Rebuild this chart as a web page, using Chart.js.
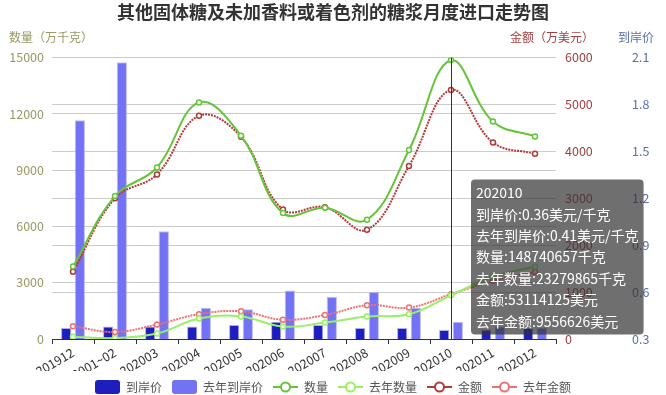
<!DOCTYPE html>
<html>
<head>
<meta charset="utf-8">
<script src="https://cdn.jsdelivr.net/npm/chart.js@4"></script>
<style>
  html, body { margin: 0; padding: 0; background: #fff; }
  #wrap { width: 666px; height: 395px; }
</style>
</head>
<body>
<div id="wrap"><canvas id="chart" width="666" height="395"></canvas></div>
<script>
const months = ['201912', '202001~02', '202003', '202004', '202005', '202006', '202007', '202008', '202009', '202010', '202011', '202012'];
// 到岸价 (美元/千克)
const price = [0.37, 0.38, 0.38, 0.38, 0.39, 0.41, 0.39, 0.37, 0.37, 0.357, 0.36, 0.37];
const lastPrice = [1.70, 2.07, 0.99, 0.50, 0.49, 0.61, 0.57, 0.60, 0.50, 0.4105, 0.38, 0.37];
// 数量 (万千克)
const quantity = [3860, 7620, 9140, 12610, 10840, 6710, 7000, 6360, 10070, 14874.0657, 11590, 10800];
const lastQuantity = [125, 50, 290, 1090, 1200, 660, 875, 1200, 1320, 2327.9865, 3320, 3850];
// 金额 (万美元)
const amount = [1436, 3000, 3510, 4760, 4310, 2760, 2810, 2330, 3690, 5311.4125, 4190, 3950];
const lastAmount = [270, 150, 310, 530, 590, 410, 510, 720, 670, 955.6626, 1240, 1430];
const activeMonth = 9;

const FONT = '"Noto Sans CJK SC", "Microsoft YaHei", sans-serif';
Chart.defaults.font.family = FONT;
Chart.defaults.font.size = 12;

const cPrice = 'rgb(30,30,190)', cLastPrice = '#7272f2';
const cQty = '#66c43a', cLastQty = '#99f066';
const cAmt = '#b33a3a', cLastAmt = '#f07070';

function barIcon(color) {
    const c = document.createElement('canvas');
    c.width = 25; c.height = 14;
    const g = c.getContext('2d');
    g.fillStyle = color;
    g.beginPath(); g.roundRect(0, 0, 25, 14, 3); g.fill();
    return c;
}
function lineIcon(color) {
    const c = document.createElement('canvas');
    c.width = 25; c.height = 14;
    const g = c.getContext('2d');
    g.strokeStyle = color; g.lineWidth = 2;
    g.beginPath(); g.moveTo(0, 7); g.lineTo(25, 7); g.stroke();
    g.fillStyle = '#fff';
    g.beginPath(); g.arc(12.5, 7, 4.5, 0, Math.PI * 2); g.fill(); g.stroke();
    return c;
}
const icons = [barIcon(cPrice), barIcon(cLastPrice), lineIcon(cQty), lineIcon(cLastQty), lineIcon(cAmt), lineIcon(cLastAmt)];

Chart.Tooltip.positioners.fixedRight = function (items) {
    if (!items.length) return false;
    const c = this.chart;
    return { x: c.scales.x.getPixelForValue(items[0].index) + 20, y: c.chartArea.bottom - 82 };
};

const extras = {
    id: 'extras',
    afterDatasetsDraw(chart) {
        const ctx = chart.ctx, a = chart.chartArea;
        const x = chart.scales.x.getPixelForValue(activeMonth);
        ctx.save();
        ctx.strokeStyle = '#333'; ctx.lineWidth = 1;
        ctx.beginPath(); ctx.moveTo(Math.round(x) + 0.5, a.top); ctx.lineTo(Math.round(x) + 0.5, a.bottom); ctx.stroke();
        ctx.font = '12px ' + FONT;
        ctx.textBaseline = 'middle';
        ctx.textAlign = 'left'; ctx.fillStyle = '#999966';
        ctx.fillText('数量（万千克）', 9, 37);
        ctx.textAlign = 'center'; ctx.fillStyle = '#a04040';
        ctx.fillText('金额（万美元）', 552, 37);
        ctx.fillStyle = '#5b6fa6';
        ctx.fillText('到岸价', 636, 37);
        ctx.restore();
    }
};

const lineBase = { type: 'line', tension: 0.4, borderWidth: 2, pointRadius: 2.5, pointBorderWidth: 1.5, pointBackgroundColor: '#fff', order: 1 };

const chart = new Chart(document.getElementById('chart'), {
    type: 'bar',
    data: {
        labels: months,
        datasets: [
            { label: '到岸价', data: price, yAxisID: 'yP', backgroundColor: cPrice, borderColor: 'rgba(120,120,230,0.6)', borderWidth: 1, categoryPercentage: 0.65, barPercentage: 0.75, order: 2 },
            { label: '去年到岸价', data: lastPrice, yAxisID: 'yP', backgroundColor: cLastPrice, borderColor: 'rgba(170,170,255,0.8)', borderWidth: 1, categoryPercentage: 0.65, barPercentage: 0.75, order: 2 },
            Object.assign({ label: '数量', data: quantity, yAxisID: 'yQ', borderColor: cQty, pointBorderColor: cQty }, lineBase),
            Object.assign({ label: '去年数量', data: lastQuantity, yAxisID: 'yQ', borderColor: cLastQty, pointBorderColor: cLastQty }, lineBase),
            Object.assign({ label: '金额', data: amount, yAxisID: 'yA', borderColor: cAmt, pointBorderColor: cAmt, borderDash: [2, 1] }, lineBase),
            Object.assign({ label: '去年金额', data: lastAmount, yAxisID: 'yA', borderColor: cLastAmt, pointBorderColor: cLastAmt, borderDash: [2, 1] }, lineBase)
        ]
    },
    options: {
        responsive: false,
        animation: false,
        events: [],
        layout: { padding: { left: 0, right: 0, top: 0, bottom: -8 } },
        scales: {
            x: {
                offset: true,
                grid: { offset: true, drawOnChartArea: false, drawTicks: true, tickLength: 5, color: '#333' },
                border: { color: '#333' },
                ticks: { minRotation: 30, maxRotation: 30, color: '#333', padding: 1, font: { size: 12.5 } },
                afterFit: s => { s.height = 32; }
            },
            yQ: {
                position: 'left', min: 0, max: 15000,
                ticks: { stepSize: 3000, color: '#999966', padding: 8, font: { size: 12.5 }, callback: v => String(v) },
                grid: { color: '#ccc', drawTicks: false },
                border: { display: false },
                afterFit: s => { s.width = 52; }
            },
            yA: {
                position: 'right', min: 0, max: 6000, weight: 1,
                ticks: { stepSize: 1000, color: '#a04040', padding: 9, font: { size: 12.5 }, callback: v => String(v) },
                grid: { color: '#ccc', drawTicks: false },
                border: { display: false },
                afterFit: s => { s.width = 70; }
            },
            yP: {
                position: 'right', min: 0.3, max: 2.1, weight: 2,
                ticks: { stepSize: 0.3, color: '#5b6fa6', padding: 6, font: { size: 12.5 }, callback: v => v.toFixed(1) },
                grid: { display: false, drawTicks: false },
                border: { display: false },
                afterFit: s => { s.width = 40; }
            }
        },
        plugins: {
            title: {
                display: true,
                text: '其他固体糖及未加香料或着色剂的糖浆月度进口走势图',
                color: '#333',
                font: { size: 18, weight: 'bold' },
                padding: { top: 1, bottom: 35 }
            },
            legend: {
                position: 'bottom',
                labels: {
                    usePointStyle: true, pointStyleWidth: 25, boxHeight: 14, padding: 10,
                    color: '#555', font: { size: 12 },
                    generateLabels: c => c.data.datasets.map((d, i) => ({
                        text: d.label, pointStyle: icons[i], fillStyle: d.backgroundColor || '#fff',
                        strokeStyle: d.borderColor, lineWidth: 0, hidden: false, datasetIndex: i, fontColor: '#555'
                    }))
                }
            },
            tooltip: {
                mode: 'index', intersect: false,
                position: 'fixedRight', xAlign: 'left', yAlign: 'center',
                caretSize: 0, caretPadding: 0, cornerRadius: 4,
                backgroundColor: 'rgba(50,50,50,0.7)',
                titleColor: '#fff', bodyColor: '#fff',
                titleFont: { size: 14, weight: 'normal' }, bodyFont: { size: 14 },
                titleMarginBottom: 4.6, bodySpacing: 4.6,
                padding: { left: 5, right: 5, top: 5, bottom: 5 },
                displayColors: false,
                itemSort: (a, b) => a.datasetIndex - b.datasetIndex,
                callbacks: {
                    label: item => {
                        const v = item.raw, name = item.dataset.label;
                        if (item.datasetIndex < 2) return name + ':' + v.toFixed(2) + '美元/千克';
                        if (item.datasetIndex < 4) return name + ':' + Math.round(v * 10000) + '千克';
                        return name + ':' + Math.round(v * 10000) + '美元';
                    }
                }
            }
        }
    },
    plugins: [extras]
});

chart.tooltip.setActiveElements(
    chart.data.datasets.map((d, i) => ({ datasetIndex: i, index: activeMonth })),
    { x: chart.scales.x.getPixelForValue(activeMonth), y: chart.chartArea.bottom - 82 }
);
chart.update();
</script>
</body>
</html>
